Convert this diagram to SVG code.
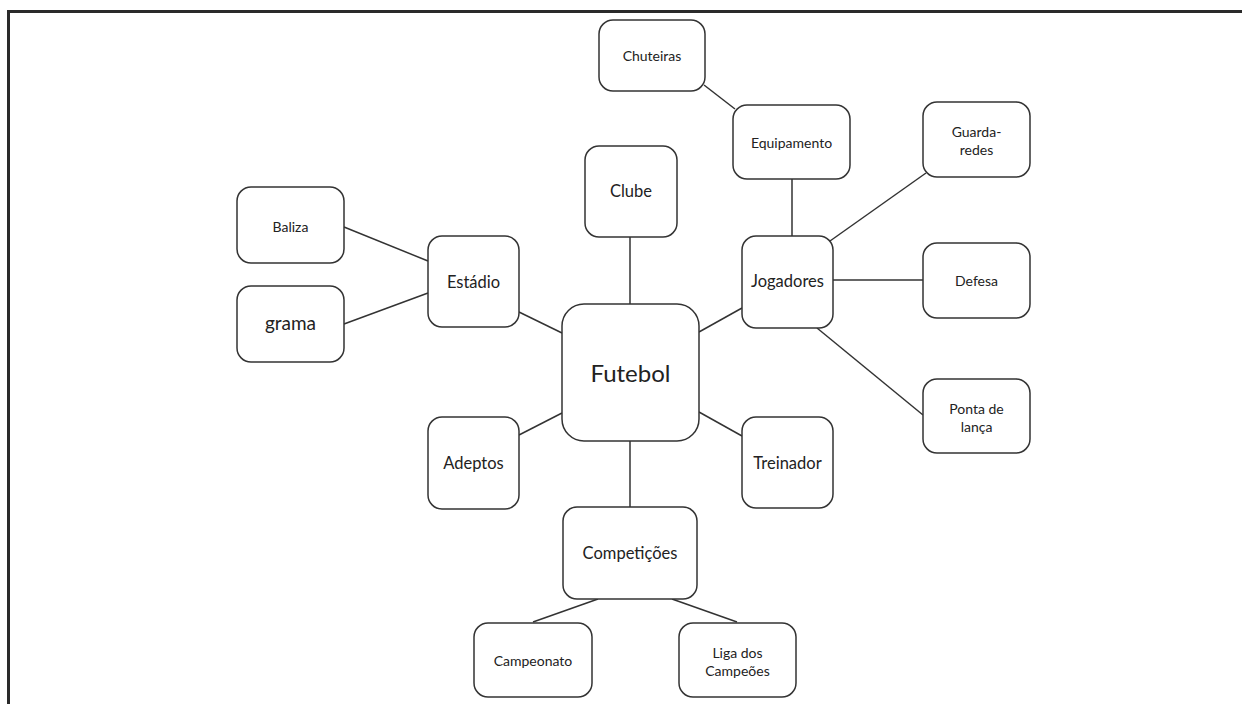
<svg xmlns="http://www.w3.org/2000/svg" width="1242" height="704" viewBox="0 0 1242 704">
<style>
.n{fill:#fff;stroke:#333;stroke-width:1.5}
.c line{stroke:#333;stroke-width:1.5}
text{font-family:Lato,"Noto Sans",sans-serif;fill:#222;text-anchor:middle;dominant-baseline:central}
.s{font-size:14px}
.m{font-size:16.5px}
</style>
<rect width="1242" height="704" fill="#fff"/>
<path d="M8.5,704 V11.5 H1242" fill="none" stroke="#2a2a2a" stroke-width="3"/>
<g class="c">
<line x1="704" y1="85" x2="735" y2="109"/>
<line x1="792" y1="179" x2="792" y2="236"/>
<line x1="630" y1="237" x2="630" y2="304"/>
<line x1="344" y1="227" x2="428" y2="261"/>
<line x1="344" y1="324" x2="428" y2="293"/>
<line x1="519" y1="312" x2="562" y2="333"/>
<line x1="830" y1="241" x2="926" y2="173"/>
<line x1="833" y1="280" x2="923" y2="280"/>
<line x1="817" y1="328" x2="923" y2="415"/>
<line x1="699" y1="332" x2="742" y2="308"/>
<line x1="699" y1="412" x2="742" y2="436"/>
<line x1="519" y1="435" x2="562" y2="413"/>
<line x1="630" y1="441" x2="630" y2="507"/>
<line x1="598" y1="599" x2="533" y2="622"/>
<line x1="672" y1="599" x2="737" y2="622"/>
</g>
<g id="chuteiras"><rect class="n" x="599" y="20" width="106" height="71" rx="14"/><text class="s" x="652" y="55">Chuteiras</text></g>
<g id="equipamento"><rect class="n" x="733" y="105" width="117" height="74" rx="14"/><text class="s" x="791.5" y="142">Equipamento</text></g>
<g id="clube"><rect class="n" x="585" y="146" width="92" height="91" rx="14"/><text class="m" x="631" y="191">Clube</text></g>
<g id="baliza"><rect class="n" x="237" y="187" width="107" height="76" rx="14"/><text class="s" x="290.5" y="226">Baliza</text></g>
<g id="grama"><rect class="n" x="237" y="286" width="107" height="76" rx="14"/><text x="290.5" y="322" font-size="19px">grama</text></g>
<g id="estadio"><rect class="n" x="428" y="236" width="91" height="91" rx="14"/><text class="m" x="473.5" y="282">Estádio</text></g>
<g id="futebol"><rect class="n" x="562" y="304" width="137" height="137" rx="22"/><text x="630.5" y="372" font-size="24px">Futebol</text></g>
<g id="jogadores"><rect class="n" x="742" y="236" width="91" height="92" rx="14"/><text class="m" x="787.5" y="281">Jogadores</text></g>
<g id="guarda-redes"><rect class="n" x="923" y="102" width="107" height="75" rx="14"/><text class="s" x="976.5" y="131">Guarda-</text><text class="s" x="976.5" y="149">redes</text></g>
<g id="defesa"><rect class="n" x="923" y="243" width="107" height="75" rx="14"/><text class="s" x="976.5" y="280">Defesa</text></g>
<g id="ponta"><rect class="n" x="923" y="379" width="107" height="74" rx="14"/><text class="s" x="976.5" y="408">Ponta de</text><text class="s" x="976.5" y="426">lança</text></g>
<g id="adeptos"><rect class="n" x="428" y="417" width="91" height="92" rx="14"/><text class="m" x="473.5" y="463">Adeptos</text></g>
<g id="treinador"><rect class="n" x="742" y="417" width="91" height="91" rx="14"/><text class="m" x="787.5" y="463">Treinador</text></g>
<g id="competicoes"><rect class="n" x="563" y="507" width="134" height="92" rx="14"/><text class="m" x="630" y="553">Competições</text></g>
<g id="campeonato"><rect class="n" x="474" y="623" width="118" height="74" rx="14"/><text class="s" x="533" y="660">Campeonato</text></g>
<g id="liga"><rect class="n" x="679" y="623" width="117" height="74" rx="14"/><text class="s" x="737.5" y="652">Liga dos</text><text class="s" x="737.5" y="670">Campeões</text></g>
</svg>
